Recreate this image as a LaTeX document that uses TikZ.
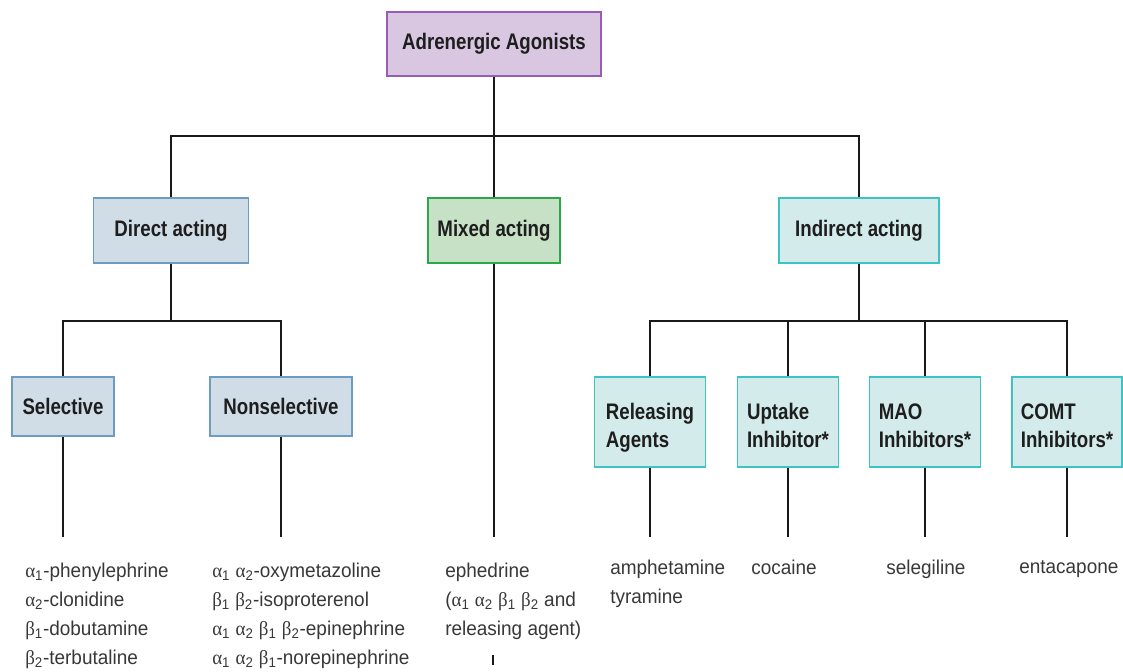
\documentclass[tikz,border=0pt]{standalone}
\usepackage{fontspec}
\setmainfont[FakeStretch=0.83]{Liberation Sans}
\newfontfamily\drugfont[FakeStretch=0.95]{Liberation Sans}
\newfontfamily\grkfont[FakeStretch=0.95]{Liberation Serif}
\usepackage{tikz}

\definecolor{topfill}{HTML}{D9C7E1}
\definecolor{topdraw}{HTML}{9A5BB4}
\definecolor{dirfill}{HTML}{D0DCE6}
\definecolor{dirdraw}{HTML}{6D9CC3}
\definecolor{mixfill}{HTML}{C6E1C6}
\definecolor{mixdraw}{HTML}{2BA84A}
\definecolor{indfill}{HTML}{D3EBEB}
\definecolor{inddraw}{HTML}{3DC3C3}
\definecolor{labeltext}{HTML}{1E1E1E}
\definecolor{drugtext}{HTML}{383838}

\newcommand{\alf}[1]{{\grkfont α}\textsubscript{#1}}
\newcommand{\bet}[1]{{\grkfont β}\textsubscript{#1}}

\begin{document}
\begin{tikzpicture}[x=0.025cm, y=-0.025cm,
		box_style/.style={rectangle,line width=1.3pt,text=labeltext,font=\bfseries\fontsize{16}{19.9}\selectfont,inner sep=2pt,minimum height=1.625cm},
		top_style/.style={box_style,fill=topfill,draw=topdraw},
		direct_style/.style={box_style,fill=dirfill,draw=dirdraw},
		mixed_style/.style={box_style,fill=mixfill,draw=mixdraw},
		indirect_style/.style={box_style,fill=indfill,draw=inddraw,align=left},
		small_style/.style={indirect_style,text depth=0pt,minimum height=2.25cm},
		drug_style/.style={anchor=north west,inner sep=0pt,align=left,text=drugtext,font=\drugfont\fontsize{14.2}{20.55}\selectfont},
		edge_style/.style={draw=black!90,line width=1.4pt}]

		\useasboundingbox (0,0) rectangle (1123,671);

		% boxes
		\node[top_style, minimum width=5.35cm, minimum height=1.6cm] (agonists) at (494,44) {Adrenergic Agonists};

		\node[direct_style, minimum width=3.875cm] (direct) at (171,230.5) {Direct acting};
		\node[mixed_style, minimum width=3.3cm] (mixed) at (494,230.5) {Mixed acting};
		\node[indirect_style, minimum width=4cm] (indirect) at (859,230.5) {Indirect acting};

		\node[direct_style, minimum width=2.55cm, minimum height=1.475cm] (selective) at (63,406.5) {Selective};
		\node[direct_style, minimum width=3.55cm, minimum height=1.475cm] (nonselective) at (281,406.5) {Nonselective};

		\node[small_style, minimum width=2.775cm] (releasing) at (650,422) {\rule{0pt}{16pt}Releasing\\Agents};
		\node[small_style, minimum width=2.525cm] (uptake) at (788,422) {\rule{0pt}{16pt}Uptake\\Inhibitor*};
		\node[small_style, minimum width=2.775cm] (mao) at (925,422) {\rule{0pt}{16pt}MAO\\Inhibitors*};
		\node[small_style, minimum width=2.75cm] (comt) at (1067,422) {\rule{0pt}{16pt}COMT\\Inhibitors*};

		% bars and free ends
		\coordinate (bar_top) at (494,136);
		\coordinate (bar_direct) at (171,321);
		\coordinate (bar_indirect) at (859,321);
		\coordinate (sel_end) at (63,537);
		\coordinate (nonsel_end) at (281,537);
		\coordinate (mix_end) at (494,537);
		\coordinate (rel_end) at (650,537);
		\coordinate (upt_end) at (788,537);
		\coordinate (mao_end) at (925,537);
		\coordinate (comt_end) at (1067,537);
		\coordinate (eph_a) at (493,655);
		\coordinate (eph_b) at (493,665);

		\draw[edge_style] (agonists) -- (mixed);
		\draw[edge_style] (direct) |- (bar_top) -| (indirect);
		\draw[edge_style] (direct) -- (bar_direct);
		\draw[edge_style] (selective) |- (bar_direct) -| (nonselective);
		\draw[edge_style] (indirect) -- (bar_indirect);
		\draw[edge_style] (releasing) |- (bar_indirect) -| (comt);
		\draw[edge_style] (uptake) -- (uptake |- bar_indirect);
		\draw[edge_style] (mao) -- (mao |- bar_indirect);

		\draw[edge_style] (selective) -- (sel_end);
		\draw[edge_style] (nonselective) -- (nonsel_end);
		\draw[edge_style] (mixed) -- (mix_end);
		\draw[edge_style] (releasing) -- (rel_end);
		\draw[edge_style] (uptake) -- (upt_end);
		\draw[edge_style] (mao) -- (mao_end);
		\draw[edge_style] (comt) -- (comt_end);
		\draw[edge_style] (eph_a) -- (eph_b);

		% drug lists
		\node[drug_style] (sel_drugs) at (25,563) {\alf{1}-phenylephrine\\\alf{2}-clonidine\\\bet{1}-dobutamine\\\bet{2}-terbutaline};
		\node[drug_style] (nonsel_drugs) at (212,563) {\alf{1} \alf{2}-oxymetazoline\\\bet{1} \bet{2}-isoproterenol\\\alf{1} \alf{2} \bet{1} \bet{2}-epinephrine\\\alf{1} \alf{2} \bet{1}-norepinephrine};
		\node[drug_style] (mix_drugs) at (445,563) {ephedrine\\(\alf{1} \alf{2} \bet{1} \bet{2} and\\releasing agent)};
		\node[drug_style] (rel_drugs) at (610,560) {amphetamine\\tyramine};
		\node[drug_style] (upt_drugs) at (751,560) {cocaine};
		\node[drug_style] (mao_drugs) at (886,560) {selegiline};
		\node[drug_style] (comt_drugs) at (1019,560) {entacapone};

\end{tikzpicture}
\end{document}
